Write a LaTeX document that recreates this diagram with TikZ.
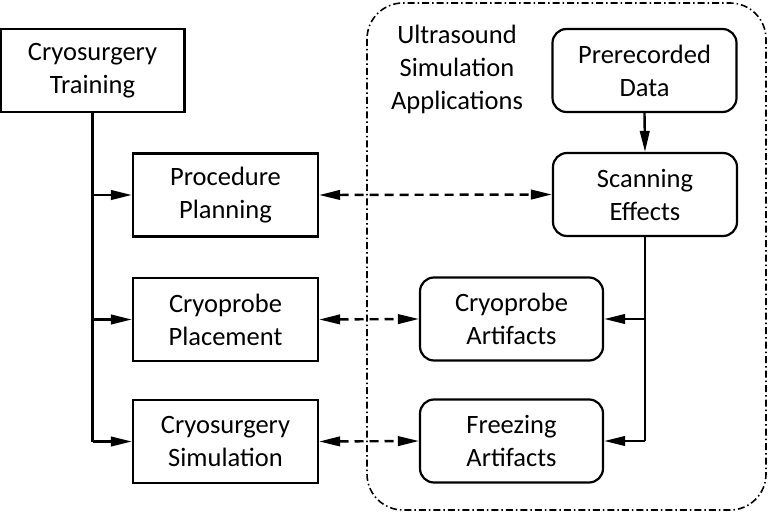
\documentclass[tikz,border=0pt]{standalone}
\usepackage{fontspec}
\setmainfont{Carlito}
\usetikzlibrary{arrows.meta}
\begin{document}
\begin{tikzpicture}[x=1pt,y=-1pt,
  box/.style={draw,line width=2.2pt,minimum width=185pt,minimum height=83pt,align=center,font=\fontsize{26.5}{33}\selectfont,inner sep=0pt},
  rbox/.style={box,rounded corners=14pt},
  tip/.tip={Triangle[length=21pt,width=9.5pt]},
  conn/.style={line width=2.4pt,-tip},
  dconn/.style={line width=2.4pt,dash pattern=on 9pt off 6pt,tip-tip},
  container/.style={line width=1.6pt,dash pattern=on 7pt off 3pt on 1.5pt off 3pt,rounded corners=36pt}]
\useasboundingbox (0,0) rectangle (768,513);
\draw[container] (367,3) rectangle (766,510);
\node[box,minimum width=184pt] (train) at (92.5,70.5) {Cryosurgery\\Training};
\node[box] (plan) at (225.5,195) {Procedure\\Planning};
\node[box] (place) at (225.5,319.5) {Cryoprobe\\Placement};
\node[box] (sim) at (225.5,441.5) {Cryosurgery\\Simulation};
\node[align=center,font=\fontsize{26.5}{33}\selectfont] (title) at (457,69) {Ultrasound\\Simulation\\Applications};
\node[rbox,minimum width=184pt] (pre) at (644.5,70.5) {Prerecorded\\Data};
\node[rbox,minimum width=184pt] (scan) at (645,194.5) {Scanning\\Effects};
\node[rbox,minimum width=183pt] (cart) at (511.5,319) {Cryoprobe\\Artifacts};
\node[rbox,minimum width=183pt] (fart) at (511.5,441) {Freezing\\Artifacts};
\coordinate (tj) at (train.south);
\coordinate (sj) at (scan.south);
\draw[line width=2.4pt] (tj) -- (tj |- sim.west);
\draw[conn] (tj |- plan.west) -- (plan.west);
\draw[conn] (tj |- place.west) -- (place.west);
\draw[conn] (tj |- sim.west) -- (sim.west);
\draw[conn] (pre.south) -- (scan.north);
\draw[line width=2.4pt] (sj) -- (sj |- fart.east);
\draw[conn] (sj |- cart.east) -- (cart.east);
\draw[conn] (sj |- fart.east) -- (fart.east);
\draw[dconn] (plan.east) -- (scan.west);
\draw[dconn] (place.east) -- (cart.west);
\draw[dconn] (sim.east) -- (fart.west);
\end{tikzpicture}
\end{document}
